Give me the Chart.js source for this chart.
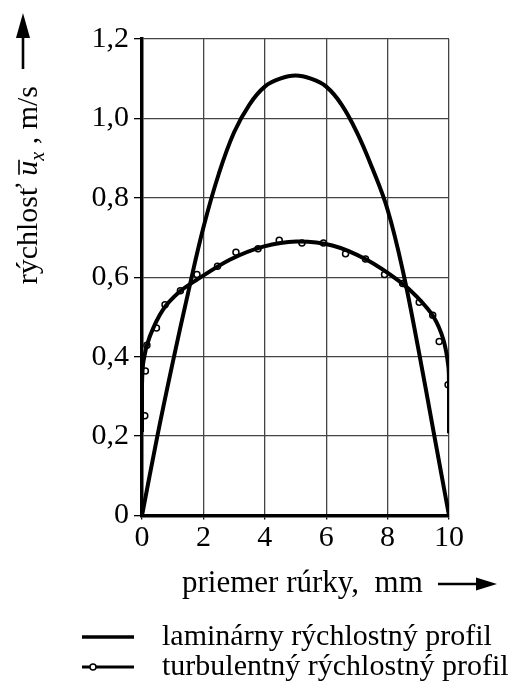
<!DOCTYPE html>
<html>
<head>
<meta charset="utf-8">
<script src="https://cdn.jsdelivr.net/npm/chart.js@4.4.1/dist/chart.umd.min.js"></script>
<style>
html,body{margin:0;padding:0;background:#fff;}
#wrap{width:524px;height:686px;}
</style>
</head>
<body>
<div id="wrap"><canvas id="c" width="524" height="686"></canvas></div>
<script>
// ---- data ----
const lamX = [0, 0.5, 1, 1.5, 2, 2.5, 3, 3.5, 4, 4.5, 5, 5.5, 6, 6.5, 7, 7.5, 8, 8.5, 9, 9.5, 10];
const lamY = [0, 0.2, 0.385, 0.56, 0.725, 0.86, 0.965, 1.035, 1.08, 1.10, 1.108, 1.10, 1.08, 1.035, 0.965, 0.875, 0.77, 0.615, 0.42, 0.21, 0];

const turbFitX = [0, 0, 0.05, 0.25, 0.68, 1.23, 1.77, 2.86, 3.95, 5.03, 6.2, 7.32, 8.4, 8.95, 9.49, 9.82, 9.98, 10, 10];
const turbFitY = [0.21, 0.33, 0.39, 0.45, 0.518, 0.564, 0.593, 0.644, 0.677, 0.69, 0.68, 0.644, 0.589, 0.551, 0.501, 0.442, 0.375, 0.33, 0.207];

const turbMeasX = [0.09, 0.11, 0.16, 0.47, 0.75, 1.25, 1.79, 2.46, 3.06, 3.78, 4.47, 5.21, 5.91, 6.63, 7.28, 7.90, 8.49, 9.03, 9.47, 9.68, 9.97];
const turbMeasY = [0.251, 0.364, 0.429, 0.472, 0.531, 0.566, 0.607, 0.628, 0.663, 0.672, 0.693, 0.686, 0.686, 0.659, 0.646, 0.607, 0.584, 0.537, 0.504, 0.438, 0.329];

const xTicks = [0, 2, 4, 6, 8, 10];
const yTicks = [0, 0.2, 0.4, 0.6, 0.8, 1.0, 1.2];

const seriesNames = ['laminárny rýchlostný profil', 'turbulentný rýchlostný profil'];
const xTitle = 'priemer rúrky,  mm';
const yTitleA = 'rýchlosť ';
const yTitleU = 'u';
const yTitleSub = 'x';
const yTitleB = ' , m/s';

const zip = (xs, ys) => xs.map((x, i) => ({x: x, y: ys[i]}));
const SERIF = "'Liberation Serif', 'Times New Roman', serif";

const decor = {
  id: 'decor',
  afterDraw(chart) {
    const ctx = chart.ctx;
    ctx.save();
    ctx.fillStyle = '#000';
    ctx.strokeStyle = '#000';
    // ---- Y title (rotated) ----
    const fs = 30;
    const fN = fs + 'px ' + SERIF;
    const fI = 'italic ' + fs + 'px ' + SERIF;
    const fS = 'italic ' + Math.round(fs * 0.68) + 'px ' + SERIF;
    ctx.font = fN; const wA = ctx.measureText(yTitleA).width;
    ctx.font = fI; const wU = ctx.measureText(yTitleU).width;
    ctx.font = fS; const wS = ctx.measureText(yTitleSub).width;
    ctx.font = fN; const wB = ctx.measureText(yTitleB).width;
    const total = wA + wU + wS + wB;
    const endY = 86;
    ctx.save();
    ctx.translate(37, endY + total);
    ctx.rotate(-Math.PI / 2);
    ctx.textBaseline = 'alphabetic';
    ctx.textAlign = 'left';
    let px = 0;
    ctx.font = fN; ctx.fillText(yTitleA, px, 0); px += wA;
    ctx.font = fI; ctx.fillText(yTitleU, px, 0);
    ctx.lineWidth = 1.6;
    ctx.beginPath(); ctx.moveTo(px + 1, -fs * 0.6); ctx.lineTo(px + wU + 1, -fs * 0.6); ctx.stroke();
    px += wU;
    ctx.font = fS; ctx.fillText(yTitleSub, px, fs * 0.22); px += wS;
    ctx.font = fN; ctx.fillText(yTitleB, px, 0);
    ctx.restore();
    // arrow up
    ctx.lineWidth = 2.6;
    ctx.beginPath(); ctx.moveTo(23, 69); ctx.lineTo(23, 34); ctx.stroke();
    ctx.beginPath(); ctx.moveTo(23, 13); ctx.lineTo(30, 38); ctx.lineTo(16, 38); ctx.closePath(); ctx.fill();

    // ---- X title ----
    ctx.font = '31px ' + SERIF;
    ctx.textAlign = 'left';
    ctx.textBaseline = 'alphabetic';
    ctx.fillText(xTitle, 182, 592);
    ctx.lineWidth = 2.6;
    ctx.beginPath(); ctx.moveTo(438, 584); ctx.lineTo(480, 584); ctx.stroke();
    ctx.beginPath(); ctx.moveTo(497, 584); ctx.lineTo(476, 577.5); ctx.lineTo(476, 590.5); ctx.closePath(); ctx.fill();

    // ---- Legend ----
    ctx.font = '30px ' + SERIF;
    ctx.lineWidth = 3.5;
    ctx.beginPath(); ctx.moveTo(82, 637); ctx.lineTo(134, 637); ctx.stroke();
    ctx.fillText(seriesNames[0], 162, 645);
    ctx.lineWidth = 3;
    ctx.beginPath(); ctx.moveTo(82, 667); ctx.lineTo(134, 667); ctx.stroke();
    ctx.beginPath(); ctx.arc(93, 667, 3, 0, Math.PI * 2);
    ctx.fillStyle = '#fff'; ctx.fill();
    ctx.lineWidth = 1.5; ctx.stroke();
    ctx.fillStyle = '#000';
    ctx.fillText(seriesNames[1], 162, 675);
    ctx.restore();
  }
};

new Chart(document.getElementById('c'), {
  type: 'line',
  data: {
    datasets: [
      {
        label: seriesNames[0],
        data: zip(lamX, lamY),
        borderColor: '#000',
        borderWidth: 4,
        pointRadius: 0,
        tension: 0.4,
        fill: false
      },
      {
        label: seriesNames[1],
        data: zip(turbFitX, turbFitY),
        borderColor: '#000',
        borderWidth: 4,
        pointRadius: 0,
        tension: 0.3,
        fill: false
      },
      {
        label: seriesNames[1] + ' (body)',
        data: zip(turbMeasX, turbMeasY),
        showLine: false,
        pointRadius: 3,
        pointBackgroundColor: '#fff',
        pointBorderColor: '#000',
        pointBorderWidth: 1.5
      }
    ]
  },
  options: {
    responsive: false,
    devicePixelRatio: 1,
    animation: false,
    layout: { padding: { left: 0, right: 75, top: 39, bottom: 130.5 } },
    plugins: { legend: { display: false }, tooltip: { enabled: false } },
    scales: {
      x: {
        type: 'linear',
        min: 0, max: 10,
        afterBuildTicks: (s) => { s.ticks = xTicks.map(v => ({value: v})); },
        afterFit: (s) => { s.height = 40; },
        ticks: {
          color: '#000',
          font: { family: SERIF, size: 30 },
          padding: 1,
          maxRotation: 0,
          callback: (v) => String(v)
        },
        grid: { color: '#444', lineWidth: 1.3, tickLength: 4, tickColor: '#000' },
        border: { color: '#000', width: 3.5 }
      },
      y: {
        min: 0, max: 1.2,
        afterBuildTicks: (s) => { s.ticks = yTicks.map(v => ({value: v})); },
        afterFit: (s) => { s.width = 142; },
        ticks: {
          color: '#000',
          font: { family: SERIF, size: 30 },
          padding: 5,
          callback: (v) => v === 0 ? '0' : v.toFixed(1).replace('.', ',')
        },
        grid: { color: '#444', lineWidth: 1.3, tickLength: 8, tickColor: '#000' },
        border: { color: '#000', width: 3.5 }
      }
    }
  },
  plugins: [decor]
});
</script>
</body>
</html>
